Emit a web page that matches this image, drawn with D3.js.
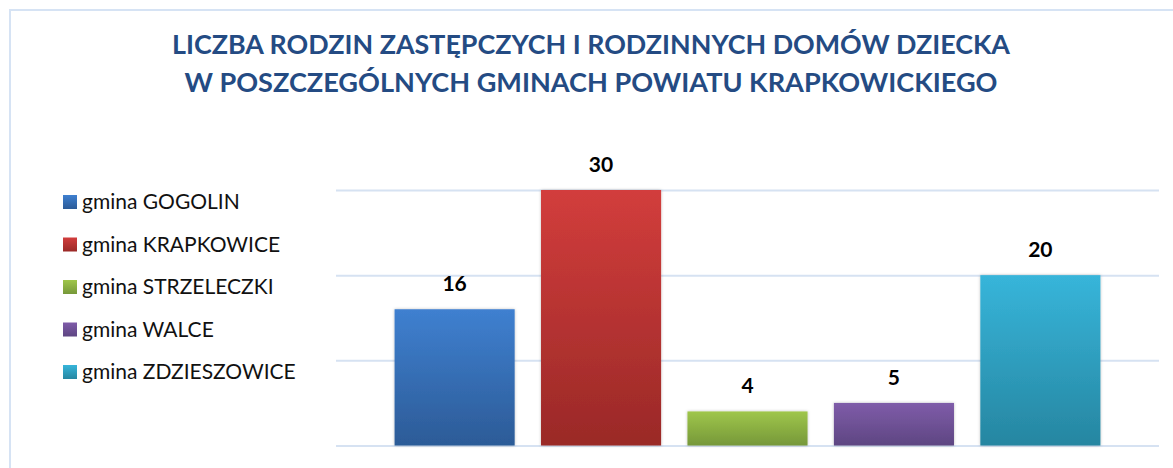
<!DOCTYPE html>
<html>
<head>
<meta charset="utf-8">
<script src="https://cdn.jsdelivr.net/npm/d3@7"></script>
<style>
  body { margin: 0; background: #fff; }
  svg { display: block; }
</style>
</head>
<body>
<svg width="1173" height="468"></svg>
<script>
var titleLines = ["LICZBA RODZIN ZASTĘPCZYCH I RODZINNYCH DOMÓW DZIECKA",
                  "W POSZCZEGÓLNYCH GMINACH POWIATU KRAPKOWICKIEGO"];
var gminy = ["gmina GOGOLIN", "gmina KRAPKOWICE", "gmina STRZELECZKI", "gmina WALCE", "gmina ZDZIESZOWICE"];
var values = [16, 30, 4, 5, 20];
var yTicks = [0, 10, 20, 30];
// top / bottom gradient colours per gmina
var colorsTop = ["#3f80d0", "#d23d3c", "#9fc64a", "#7f5ca9", "#37b5da"];
var colorsBottom = ["#2c5b97", "#9a2927", "#76983a", "#5e4682", "#2686a1"];

var svg = d3.select("svg"),
  width = +svg.attr("width"),
  height = +svg.attr("height");

var defs = svg.append("defs");

gminy.forEach(function(g, i) {
  var grad = defs.append("linearGradient")
    .attr("id", "grad" + i)
    .attr("x1", 0).attr("y1", 0).attr("x2", 0).attr("y2", 1);
  grad.append("stop").attr("offset", "0%").attr("stop-color", colorsTop[i]);
  grad.append("stop").attr("offset", "100%").attr("stop-color", colorsBottom[i]);
});

var shadow = defs.append("filter").attr("id", "shadow")
  .attr("x", "-10%").attr("y", "-10%").attr("width", "120%").attr("height", "120%");
shadow.append("feDropShadow")
  .attr("dx", 0).attr("dy", 0)
  .attr("stdDeviation", 1.5)
  .attr("flood-color", "#000")
  .attr("flood-opacity", 0.25);

// chart box
svg.append("rect")
  .attr("x", 10).attr("y", 10)
  .attr("width", width).attr("height", height)
  .attr("fill", "#fff")
  .attr("stroke", "#d6e3f4")
  .attr("stroke-width", 2);

// title
var title = svg.append("g").attr("class", "title");
titleLines.forEach(function(t, i) {
  title.append("text")
    .attr("x", 591)
    .attr("y", 54 + i * 38)
    .attr("text-anchor", "middle")
    .attr("font-family", "Lato, 'Open Sans', sans-serif")
    .attr("font-weight", "bold")
    .attr("font-size", 26)
    .attr("fill", "#244b83")
    .attr("textLength", i == 0 ? 838 : 813)
    .attr("lengthAdjust", "spacingAndGlyphs")
    .text(t);
});

// scales
var x = d3.scaleBand()
  .domain(gminy)
  .range([336, 1159])
  .paddingInner(0.18)
  .paddingOuter(0.4);

var y = d3.scaleLinear()
  .domain([0, 30])
  .range([445.5, 190]);

// gridlines
svg.append("g")
  .attr("class", "grid")
  .attr("transform", "translate(336,0)")
  .call(d3.axisLeft(y).tickValues(yTicks).tickSize(-823).tickFormat(""))
  .call(function(g) {
    g.select(".domain").remove();
    g.selectAll("line").attr("stroke", "#d6e2f2").attr("stroke-width", 2);
  });

// bars
svg.append("g")
  .attr("class", "bars")
  .selectAll("rect")
  .data(values)
  .enter().append("rect")
  .attr("x", function(d, i) { return x(gminy[i]); })
  .attr("y", function(d) { return y(d); })
  .attr("width", x.bandwidth())
  .attr("height", function(d) { return y(0) - y(d); })
  .attr("fill", function(d, i) { return "url(#grad" + i + ")"; })
  .attr("filter", "url(#shadow)");

// value labels
svg.append("g")
  .attr("class", "labels")
  .selectAll("text")
  .data(values)
  .enter().append("text")
  .attr("x", function(d, i) { return x(gminy[i]) + x.bandwidth() / 2; })
  .attr("y", function(d) { return y(d) - 18; })
  .attr("text-anchor", "middle")
  .attr("font-family", "Lato, 'Open Sans', sans-serif")
  .attr("font-weight", "bold")
  .attr("font-size", 21)
  .attr("fill", "#000")
  .text(function(d) { return d; });

// legend
var legend = svg.append("g")
  .attr("class", "legend")
  .selectAll("g")
  .data(gminy)
  .enter().append("g")
  .attr("transform", function(d, i) { return "translate(63," + (202 + i * 42.5) + ")"; });

legend.append("rect")
  .attr("x", 0).attr("y", -7)
  .attr("width", 14).attr("height", 14)
  .attr("fill", function(d, i) { return "url(#grad" + i + ")"; });

legend.append("text")
  .attr("x", 19)
  .attr("y", 7)
  .attr("font-family", "Lato, 'Open Sans', sans-serif")
  .attr("font-size", 21)
  .attr("fill", "#111")
  .text(function(d) { return d; });
</script>
</body>
</html>
